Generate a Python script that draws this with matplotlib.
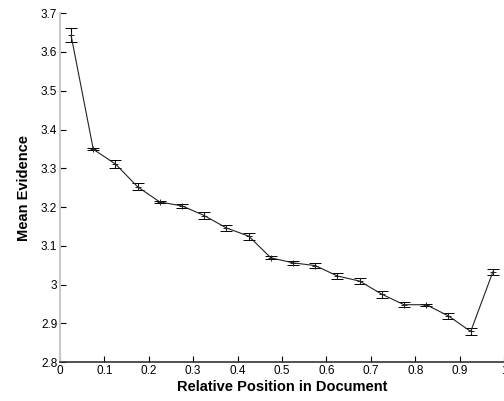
import numpy as np
import matplotlib
matplotlib.use("Agg")
import matplotlib.pyplot as plt
from matplotlib.ticker import FuncFormatter

plt.rcParams['font.family'] = ['Liberation Sans', 'DejaVu Sans']

# relative position bins and mean evidence values
position = [0.025, 0.075, 0.125, 0.175, 0.225, 0.275, 0.325, 0.375, 0.425, 0.475,
            0.525, 0.575, 0.625, 0.675, 0.725, 0.775, 0.825, 0.875, 0.925, 0.975]
mean_evidence = [3.643, 3.349, 3.311, 3.252, 3.213, 3.203, 3.178, 3.146, 3.125, 3.069,
                 3.056, 3.049, 3.022, 3.009, 2.975, 2.948, 2.948, 2.919, 2.879, 3.033]
err = [0.018, 0.003, 0.010, 0.009, 0.003, 0.005, 0.008, 0.008, 0.009, 0.004,
       0.006, 0.006, 0.008, 0.008, 0.009, 0.007, 0.002, 0.008, 0.010, 0.008]

xticks = [0, 0.1, 0.2, 0.3, 0.4, 0.5, 0.6, 0.7, 0.8, 0.9, 1]
yticks = [2.8, 2.9, 3.0, 3.1, 3.2, 3.3, 3.4, 3.5, 3.6, 3.7]

fig = plt.figure(figsize=(5.04, 4.01), dpi=100)
ax = fig.add_axes([0.119, 0.097, 0.881, 0.870])

ax.errorbar(position, mean_evidence, yerr=err, color='#222222', lw=0.8,
            marker='+', ms=4, mew=0.7, ecolor='black', elinewidth=0.8,
            capsize=4.5, capthick=0.9)

ax.set_xlim(0, 1)
ax.set_ylim(2.8, 3.7)
ax.set_xticks(xticks)
ax.set_yticks(yticks)
ax.xaxis.set_major_formatter(FuncFormatter(lambda v, p: '%g' % v))
ax.yaxis.set_major_formatter(FuncFormatter(lambda v, p: '%g' % round(v, 2)))
ax.tick_params(direction='in', length=4, width=0.8, labelsize=8.5, pad=2)

for s in ['top', 'right']:
    ax.spines[s].set_visible(False)
ax.spines['left'].set_color('#c8c8c8')
ax.spines['left'].set_linewidth(1.5)
ax.spines['bottom'].set_color('#333333')
ax.spines['bottom'].set_linewidth(1.2)

ax.set_xlabel('Relative Position in Document', fontsize=10.5, fontweight='bold', labelpad=2)
ax.set_ylabel('Mean Evidence', fontsize=10.5, fontweight='bold', labelpad=7)

fig.savefig('out.png', dpi=100)
